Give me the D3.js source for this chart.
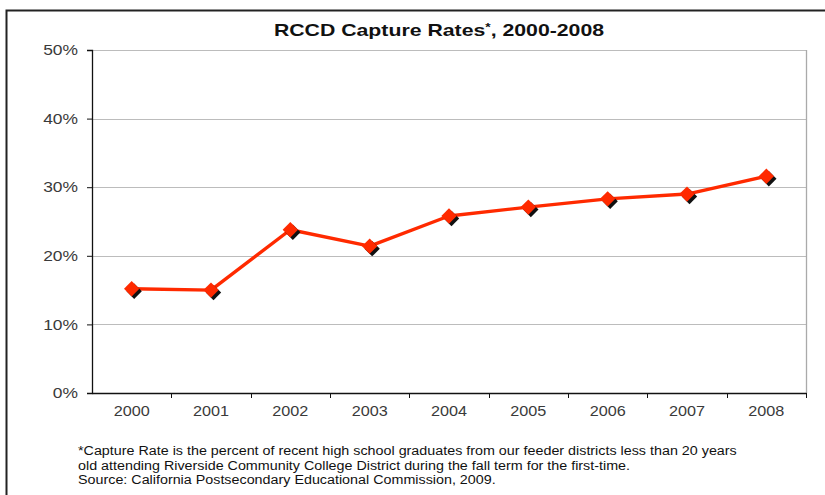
<!DOCTYPE html>
<html>
<head>
<meta charset="utf-8">
<script src="https://cdn.jsdelivr.net/npm/d3@7"></script>
<style>
  html, body { margin: 0; padding: 0; background: #fff; }
  svg { display: block; font-family: "Liberation Sans", Arial, sans-serif; }
</style>
</head>
<body>
<svg id="chart" width="825" height="495"></svg>
<script>
// RCCD capture rates by year (percent)
const years = ["2000", "2001", "2002", "2003", "2004", "2005", "2006", "2007", "2008"];
const rates = [15.2, 15.0, 23.8, 21.4, 25.8, 27.1, 28.3, 29.0, 31.6];
const yTicks = [0, 10, 20, 30, 40, 50];
const footnote = [
  "*Capture Rate is the percent of recent high school graduates from our feeder districts less than 20 years",
  "old attending Riverside Community College District during the fall term for the first-time.",
  "Source: California Postsecondary Educational Commission, 2009."
];

const FONT = "\"Liberation Sans\", Arial, sans-serif";
const svg = d3.select("#chart");
const plot = { left: 92, right: 806, top: 50, bottom: 393 };

// widen text horizontally by a factor (the chart uses a wide face)
function widen(sel, factor) {
  sel.each(function () {
    const w = this.getComputedTextLength();
    d3.select(this).attr("textLength", w * factor).attr("lengthAdjust", "spacingAndGlyphs");
  });
}

// outer frame (open at the right and bottom edges)
svg.append("path")
  .attr("d", "M6.5,495 L6.5,10.5 L825,10.5")
  .attr("fill", "none").attr("stroke", "#222").attr("stroke-width", 2);

// title
const title = svg.append("text")
  .attr("x", 439).attr("y", 35.5)
  .attr("text-anchor", "middle")
  .attr("font-size", 17).attr("font-weight", "bold").attr("fill", "#111");
title.append("tspan").text("RCCD Capture Rates");
title.append("tspan").attr("font-size", 11).attr("dy", -5).text("*");
title.append("tspan").attr("dy", 5).text(", 2000-2008");
widen(title, 1.25);

const x = d3.scaleBand().domain(years).range([plot.left, plot.right]);
const y = d3.scaleLinear().domain([0, 50]).range([plot.bottom, plot.top]);

// gridlines
svg.append("g").selectAll("line")
  .data(yTicks.filter(d => d > 0))
  .join("line")
  .attr("x1", plot.left).attr("x2", plot.right)
  .attr("y1", d => Math.round(y(d)) + 0.5).attr("y2", d => Math.round(y(d)) + 0.5)
  .attr("stroke", "#bcbcbc").attr("stroke-width", 1.2);

// right plot border
svg.append("line")
  .attr("x1", plot.right + 0.5).attr("x2", plot.right + 0.5)
  .attr("y1", plot.top).attr("y2", plot.bottom)
  .attr("stroke", "#aaa").attr("stroke-width", 1.3);

// y axis
const yAxis = svg.append("g")
  .attr("transform", `translate(${plot.left},0)`)
  .call(d3.axisLeft(y).tickValues(yTicks).tickFormat(d => d + "%").tickSize(5).tickPadding(9));
yAxis.select(".domain").attr("stroke", "#111").attr("stroke-width", 1.3);
yAxis.selectAll(".tick line").attr("stroke", "#111");
yAxis.selectAll("text").attr("font-size", 14.5).attr("fill", "#3a3a3a").attr("font-family", FONT);
widen(yAxis.selectAll("text"), 1.2);

// x axis with ticks at category boundaries
const xAxis = svg.append("g")
  .attr("transform", `translate(0,${plot.bottom})`)
  .call(d3.axisBottom(x).tickSize(0).tickPadding(12));
xAxis.select(".domain").attr("stroke", "#111").attr("stroke-width", 1.3);
xAxis.selectAll("text").attr("font-size", 15).attr("fill", "#3a3a3a").attr("font-family", FONT);
widen(xAxis.selectAll("text"), 1.08);
xAxis.append("g").selectAll("line")
  .data(years)
  .join("line")
  .attr("x1", d => Math.round(x(d) + x.bandwidth()) + 0.5)
  .attr("x2", d => Math.round(x(d) + x.bandwidth()) + 0.5)
  .attr("y1", 0).attr("y2", 5)
  .attr("stroke", "#111");

const pts = years.map((yr, i) => ({ yr, v: rates[i] }));
const cx = d => x(d.yr) + x.bandwidth() / 2;

// line
svg.append("path")
  .datum(pts)
  .attr("fill", "none")
  .attr("stroke", "#ff2a00")
  .attr("stroke-width", 3.4)
  .attr("stroke-linejoin", "round")
  .attr("d", d3.line().x(cx).y(d => y(d.v)));

// diamond markers with dark drop shadow
const diamond = d3.symbol().type(d3.symbolDiamond2).size(150);
svg.append("g").selectAll("path")
  .data(pts)
  .join("path")
  .attr("d", diamond)
  .attr("transform", d => `translate(${cx(d) + 2.5},${y(d.v) + 2.5})`)
  .attr("fill", "#111");
svg.append("g").selectAll("path")
  .data(pts)
  .join("path")
  .attr("d", diamond)
  .attr("transform", d => `translate(${cx(d)},${y(d.v)})`)
  .attr("fill", "#ff2a00");

// footnote
const notes = svg.append("g").selectAll("text")
  .data(footnote)
  .join("text")
  .attr("x", 78)
  .attr("y", (d, i) => 455 + i * 14.5)
  .attr("font-size", 12.5)
  .attr("fill", "#111")
  .text(d => d);
widen(notes, 1.145);
</script>
</body>
</html>
